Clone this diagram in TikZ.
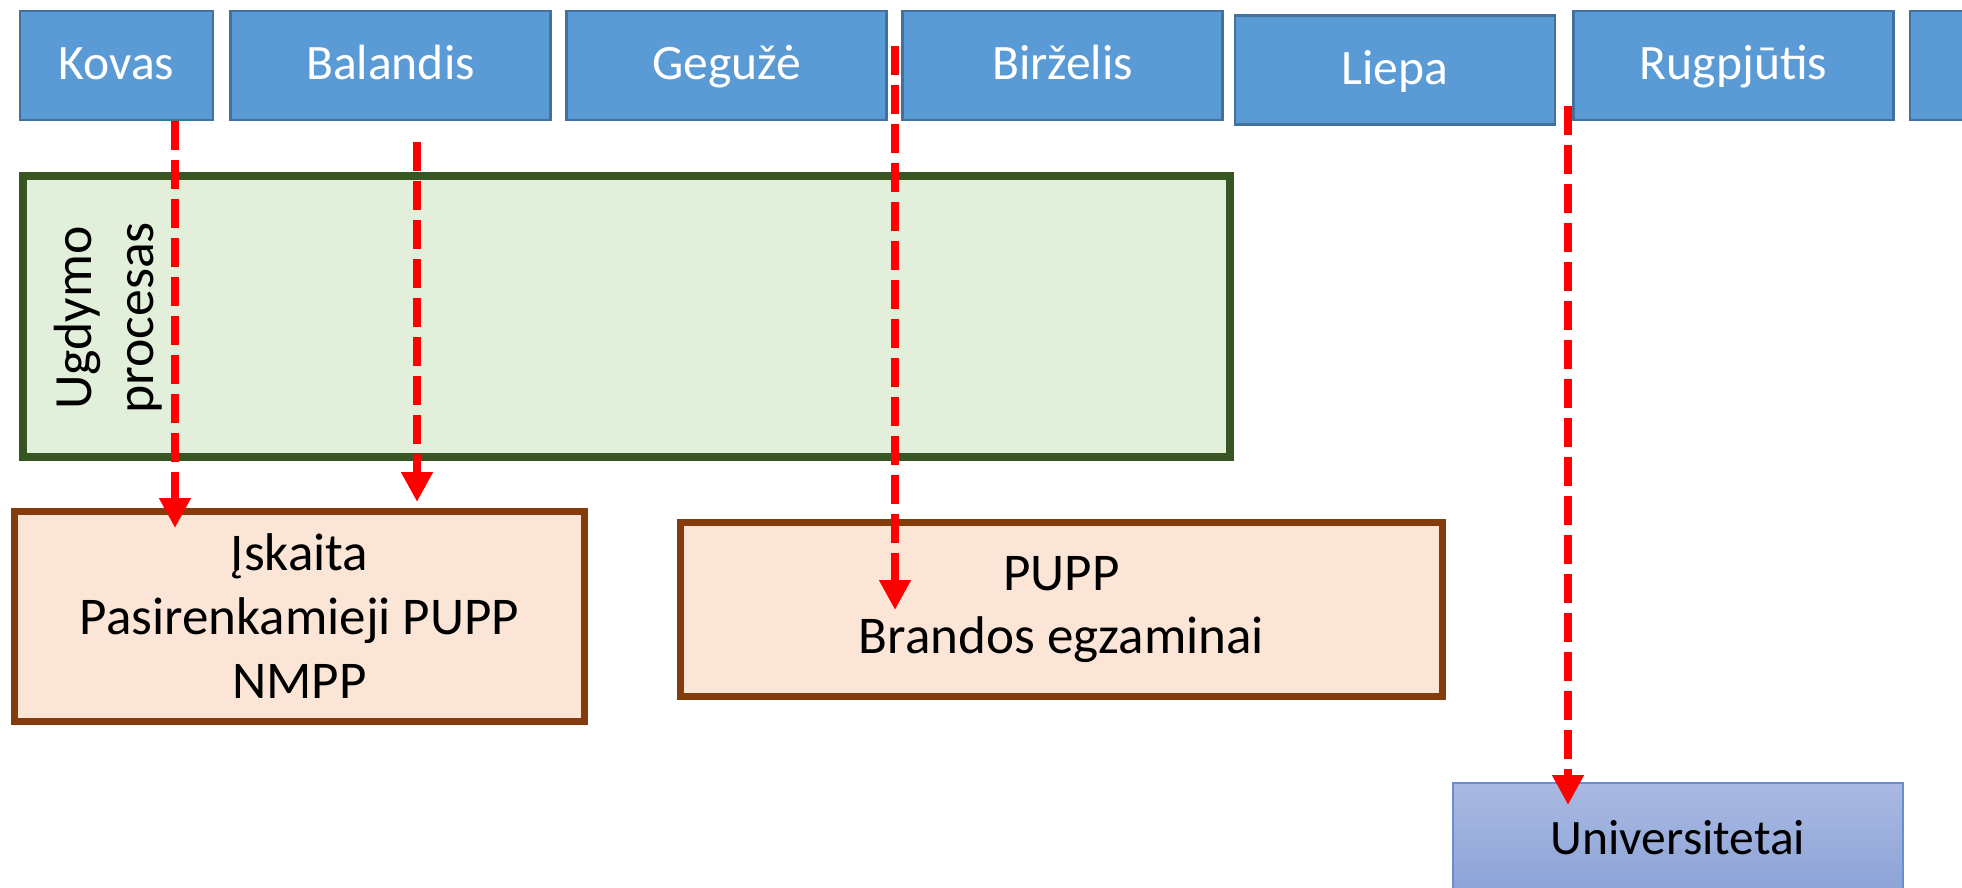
\documentclass[tikz,border=0pt]{standalone}
\usepackage{fontspec}
\setmainfont{Carlito}
\usetikzlibrary{arrows.meta}

\definecolor{monthblue}{HTML}{5B9BD5}
\definecolor{monthedge}{HTML}{41719C}
\definecolor{procfill}{HTML}{E2EFDA}
\definecolor{procedge}{HTML}{375623}
\definecolor{examfill}{HTML}{FBE5D6}
\definecolor{examedge}{HTML}{843C0C}
\definecolor{unitop}{HTML}{AAB9E2}
\definecolor{unibot}{HTML}{8CA3D7}
\definecolor{uniedge}{HTML}{6A8CD2}

\begin{document}
\begin{tikzpicture}[x = 0.1mm, y = -0.1mm,
  month/.style = {draw = monthedge, line width = 0.7pt, fill = monthblue, text = white,
    minimum width = 32mm, minimum height = 10.9mm, inner sep = 0pt,
    text height = 11pt, text depth = 3pt,
    font = \fontsize{14.1pt}{16pt}\selectfont},
  exam/.style = {draw = examedge, line width = 1.9pt, fill = examfill, align = center,
    inner sep = 0pt, font = \fontsize{15.1pt}{18.2pt}\selectfont},
  jump/.style = {red, line width = 2.4pt, dash pattern = on 2.9mm off 1mm,
    -{Triangle[length = 3mm, width = 3mm]}}]
\useasboundingbox (0,0) rectangle (1962,887);
\clip (0,0) rectangle (1962,887);
% months
\node [month, minimum width = 19.3mm] (kovas) at (116.5,65.5) {Kovas};
\node [month] (balandis) at (390.5,65.5) {Balandis};
\node [month] (geguze) at (726.5,65.5) {Gegužė};
\node [month] (birzelis) at (1062.5,65.5) {Birželis};
\node [month] (liepa) at (1395,70) {Liepa};
\node [month] (rugpjutis) at (1733.5,65.5) {Rugpjūtis};
\node [month] (rugsejis) at (2070,65.5) {};
% boxes
\node [draw = procedge, line width = 2.3pt, fill = procfill, minimum width = 120.7mm,
  minimum height = 28.1mm] (ugdymas) at (626.5,316.5) {};
\node [rotate = 90, align = center, font = \fontsize{15.3pt}{17.6pt}\selectfont]
  (ugdymotxt) at (108,318) {Ugdymo\\procesas};
\node [exam, minimum width = 57mm, minimum height = 21mm] (iskaita) at (299.5,616.5)
  {Įskaita\\Pasirenkamieji PUPP\\NMPP};
\node [exam, minimum width = 76.2mm, minimum height = 17.4mm] (pupp) at (1061.5,609.5)
  {PUPP\\Brandos egzaminai};
\node [draw = uniedge, line width = 0.5pt, top color = unitop, bottom color = unibot,
  minimum width = 45mm, minimum height = 11mm, font = \fontsize{14.1pt}{16pt}\selectfont]
  (univ) at (1678,838) {Universitetai};
% arrows
\coordinate (kovasin) at (175,528);
\coordinate (balandisout) at (417,142);
\coordinate (balandisin) at (417,502);
\coordinate (birzelisout) at (895,46);
\coordinate (birzelisin) at (895,610);
\coordinate (rugpjutisout) at (1568,106);
\coordinate (rugpjutisin) at (1568,805);
\draw [jump] (kovas.south -| kovasin) -- (kovasin);
\draw [jump] (balandisout) -- (balandisin);
\draw [jump] (birzelisout) -- (birzelisin);
\draw [jump] (rugpjutisout) -- (rugpjutisin);
\end{tikzpicture}
\end{document}
